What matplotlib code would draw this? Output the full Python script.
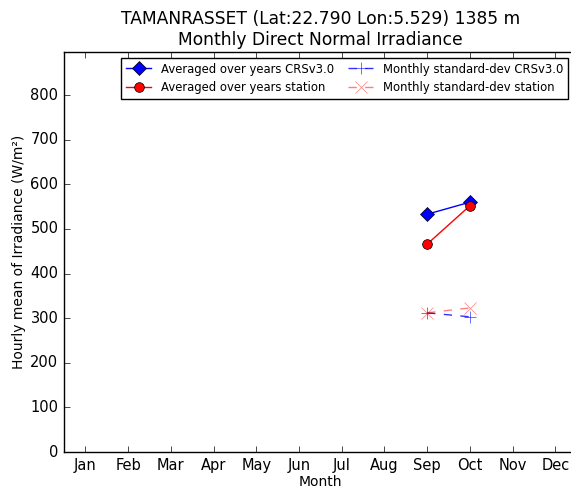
import matplotlib
matplotlib.use("Agg")
import matplotlib.pyplot as plt
import numpy as np

plt.style.use("classic")

# Monthly DNI values (W/m2)
months = ["Jan", "Feb", "Mar", "Apr", "May", "Jun", "Jul", "Aug", "Sep", "Oct", "Nov", "Dec"]
month_idx = [9, 10]
crs_mean = [533, 560]
station_mean = [466, 552]
crs_std = [312, 303]
station_std = [312, 323]

fig = plt.figure(figsize=(5.71, 4.91), dpi=100)
fig.patch.set_facecolor("white")
ax = fig.add_axes([0.112, 0.0794, 0.898, 0.815])

ax.plot(month_idx, crs_mean, color="blue", marker="D", markersize=7, linewidth=1,
        label="Averaged over years CRSv3.0")
ax.plot(month_idx, station_mean, color="red", marker="o", markersize=7, linewidth=1,
        label="Averaged over years station")
ax.plot(month_idx, crs_std, color="blue", marker="+", markersize=8, linestyle="--",
        linewidth=1, alpha=0.8, label="Monthly standard-dev CRSv3.0")
ax.plot(month_idx, station_std, color="red", marker="x", markersize=8, linestyle="--",
        linewidth=1, alpha=0.5, label="Monthly standard-dev station")

ax.set_xlim(0.5, 12.5)
ax.set_ylim(0, 897)
ax.set_xticks(np.arange(1, 13))
ax.set_xticklabels(months)
ax.set_yticks(np.arange(0, 900, 100))
ax.tick_params(labelsize=10.5)

ax.set_xlabel("Month", fontsize=10, labelpad=2)
ax.set_ylabel("Hourly mean of Irradiance (W/m²)", fontsize=10, labelpad=3)
ax.set_title("TAMANRASSET (Lat:22.790 Lon:5.529) 1385 m\nMonthly Direct Normal Irradiance",
             fontsize=12.3)

ax.legend(loc="upper right", bbox_to_anchor=(0.983, 0.985), borderaxespad=0,
          ncol=2, numpoints=1, fontsize=8.4, handlelength=2.2, handletextpad=0.8,
          columnspacing=1.2, borderpad=0.4, labelspacing=0.5)

fig.savefig("out.png", dpi=100, facecolor="white")
